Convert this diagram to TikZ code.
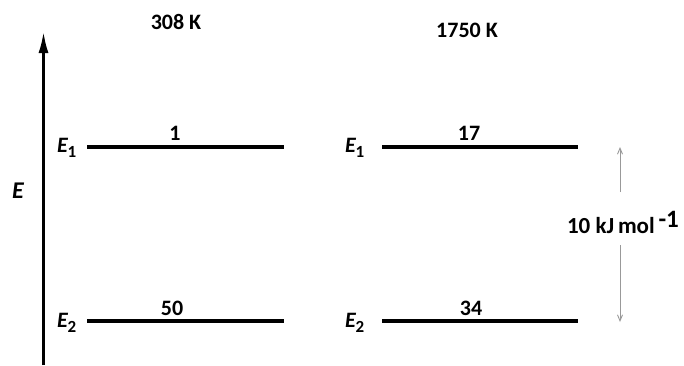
\documentclass[tikz,border=0pt]{standalone}
\usepackage{fontspec}
\setmainfont{Carlito}
\usetikzlibrary{arrows.meta}
\begin{document}
\begin{tikzpicture}[x=1pt,y=-1pt,
  every node/.style={inner sep=0pt,outer sep=0pt,font=\fontsize{22}{26}\selectfont\bfseries},
  level/.style={line width=3.2pt,black},
  elabel/.style={anchor=base west},
  gap/.style={draw=gray!80,line width=0.9pt,-{Straight Barb[length=6pt,width=5pt]}}]
\useasboundingbox (0,0) rectangle (684,365);
\newcommand{\lev}[1]{{\itshape E}\raisebox{-0.5ex}{\fontsize{17}{17}\selectfont #1}}
% axis
\coordinate (ax0) at (43.5,365);
\coordinate (ax1) at (43.5,31);
\draw[line width=3pt,-{Latex[length=22pt,width=10pt]}] (ax0) -- (ax1);
\node[font=\fontsize{24}{28}\selectfont\bfseries] (E) at (18,191) {\itshape E};
% temperatures
\node (T1) at (176,22) {308 K};
\node (T2) at (467,30) {1750 K};
% left levels
\coordinate (l1a) at (87,147); \coordinate (l1b) at (284,147);
\coordinate (l2a) at (87,321); \coordinate (l2b) at (284,321);
\draw[level] (l1a) -- (l1b);
\draw[level] (l2a) -- (l2b);
\node[elabel] (E1l) at (57,152) {\lev{1}};
\node[elabel] (E2l) at (57,327) {\lev{2}};
\node (n1) at (175,133) {1};
\node (n50) at (172,308) {50};
% right levels
\coordinate (r1a) at (382,147); \coordinate (r1b) at (578,147);
\coordinate (r2a) at (382,321); \coordinate (r2b) at (578,321);
\draw[level] (r1a) -- (r1b);
\draw[level] (r2a) -- (r2b);
\node[elabel] (E1r) at (345,152) {\lev{1}};
\node[elabel] (E2r) at (345,327) {\lev{2}};
\node (n17) at (469,133) {17};
\node (n34) at (471,308) {34};
% energy gap
\node[anchor=base west,font=\fontsize{23}{26}\selectfont\bfseries] (gapl) at (567,233) {10 kJ\,mol\,\raisebox{0.5ex}{\fontsize{25}{25}\selectfont -1}};
\coordinate (g1) at (620,192); \coordinate (g1t) at (620,147);
\coordinate (g2) at (620,245); \coordinate (g2b) at (620,322);
\draw[gap] (g1) -- (g1t);
\draw[gap] (g2) -- (g2b);
\end{tikzpicture}
\end{document}
